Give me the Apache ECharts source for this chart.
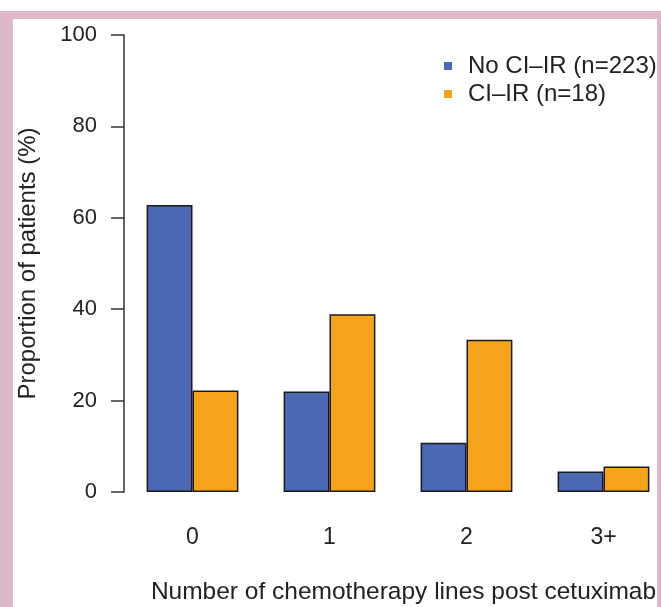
<!DOCTYPE html>
<html>
<head>
<meta charset="utf-8">
<script src="https://cdn.jsdelivr.net/npm/echarts@6/dist/echarts.min.js"></script>
<style>
    html, body { margin: 0; padding: 0; background: #fff; }
    #chart { position: absolute; left: 0; top: 0; width: 661px; height: 607px; }
    .frame { position: absolute; background: #dcb8c9; }
</style>
</head>
<body>
<div id="chart"></div>
<div class="frame" style="left:0;top:11px;width:661px;height:8px;"></div>
<div class="frame" style="left:0;top:11px;width:13px;height:596px;"></div>
<div class="frame" style="left:657px;top:11px;width:4px;height:596px;"></div>
<script>
// 化疗线数分布
const categories = ["0", "1", "2", "3+"];
const seriesNames = ["No CI\u2013IR (n=223)", "CI\u2013IR (n=18)"];
const noCiir = [62.8, 22.0, 10.8, 4.5];
const ciir = [22.2, 38.9, 33.3, 5.6];
const yTicks = { min: 0, max: 100, interval: 20 };

const textColor = "#222";
const font = "Liberation Sans, Arial, sans-serif";

const chart = echarts.init(document.getElementById("chart"));
chart.setOption({
    animation: false,
    grid: { left: 124, top: 35, width: 548, height: 457, outerBoundsMode: "none", containLabel: false },
    legend: {
        orient: "vertical",
        left: 439,
        top: 49,
        icon: "rect",
        itemWidth: 8,
        itemHeight: 8,
        itemGap: 4,
        data: seriesNames,
        itemStyle: { borderWidth: 0 },
        textStyle: { color: textColor, fontSize: 24, fontFamily: font, padding: [0, 0, 0, 11], lineHeight: 24 },
    },
    xAxis: {
        type: "category",
        data: categories,
        axisLine: { show: false },
        axisTick: { show: false },
        axisLabel: { color: textColor, fontSize: 23, fontFamily: font, margin: 34 },
        name: "Number of chemotherapy lines post cetuximab",
        nameLocation: "middle",
        nameGap: 88,
        nameTextStyle: { color: textColor, fontSize: 24.5, fontFamily: font, padding: [0, 0, 0, 11] },
    },
    yAxis: {
        type: "value",
        min: yTicks.min,
        max: yTicks.max,
        interval: yTicks.interval,
        axisLine: { show: true, lineStyle: { color: "#333", width: 1.5 } },
        axisTick: { show: true, inside: false, length: 13, lineStyle: { color: "#333", width: 1.5 } },
        axisLabel: { color: textColor, fontSize: 22, fontFamily: font, margin: 27 },
        splitLine: { show: false },
        name: "Proportion of patients (%)",
        nameLocation: "middle",
        nameGap: 84,
        nameTextStyle: { color: textColor, fontSize: 24, fontFamily: font },
    },
    series: [
        {
            name: seriesNames[0],
            type: "bar",
            data: noCiir,
            barGap: "0%",
            barCategoryGap: "33%",
            itemStyle: { color: "#4b67b1", borderColor: "#1a1a1a", borderWidth: 1.5 },
        },
        {
            name: seriesNames[1],
            type: "bar",
            data: ciir,
            itemStyle: { color: "#f6a31c", borderColor: "#1a1a1a", borderWidth: 1.5 },
        },
    ],
});
</script>
</body>
</html>
